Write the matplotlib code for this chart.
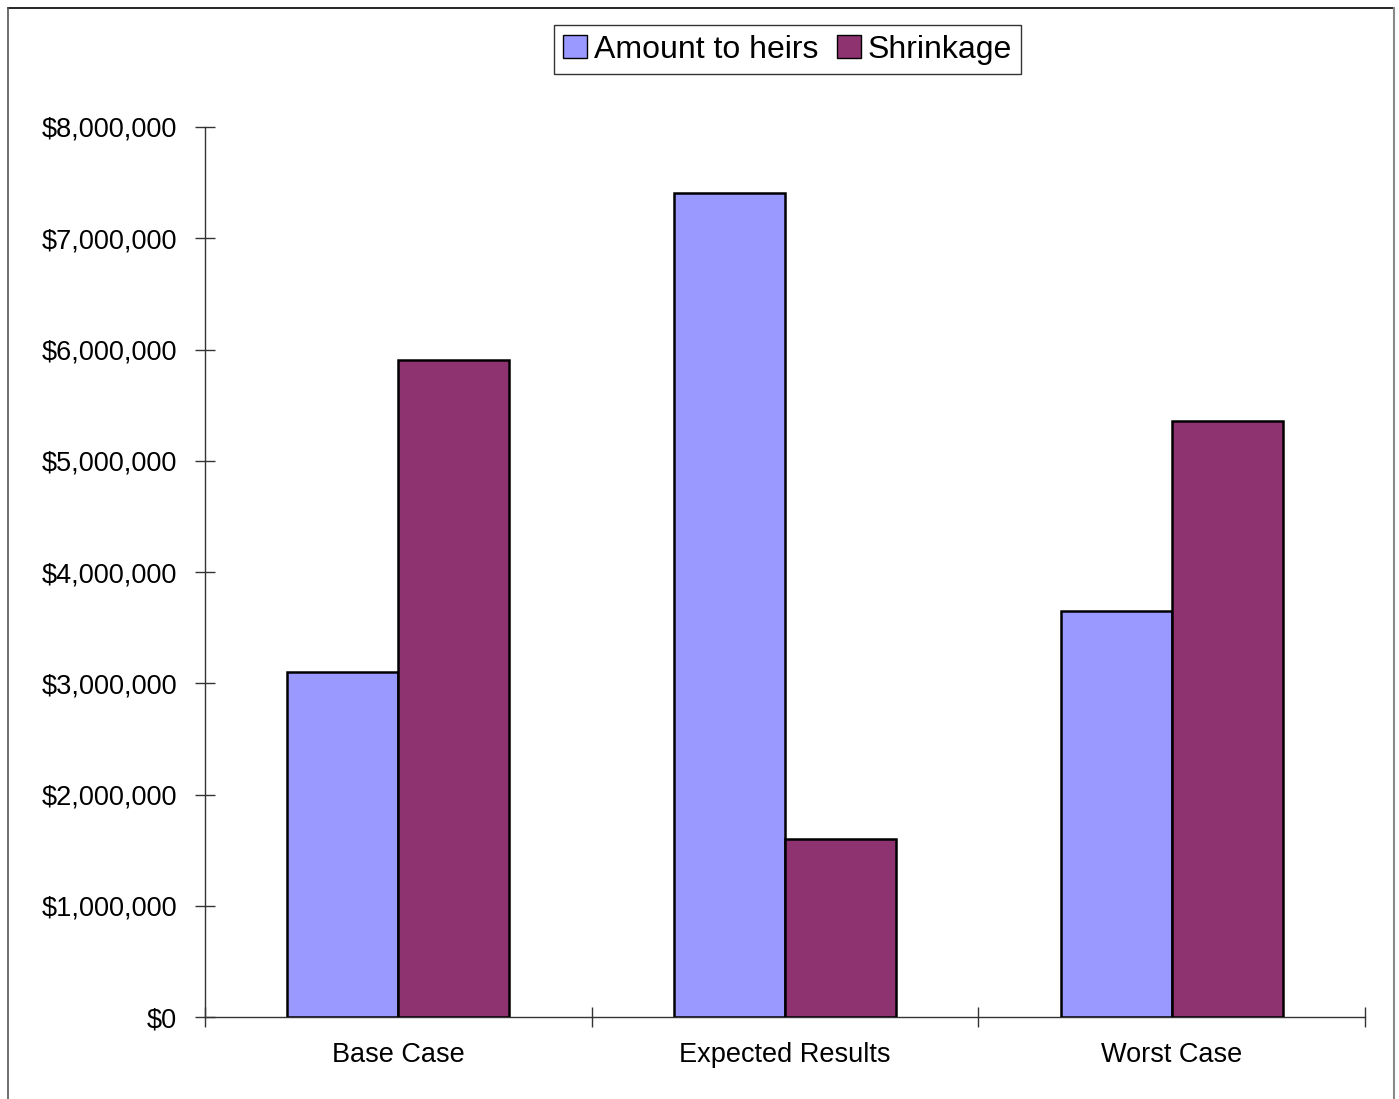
import matplotlib
matplotlib.use('Agg')
import matplotlib.pyplot as plt
from matplotlib.lines import Line2D
import numpy as np

plt.rcParams['font.family'] = ['Liberation Sans', 'DejaVu Sans']

# data
categories = ['Base Case', 'Expected Results', 'Worst Case']
amount_to_heirs = [3100000, 7410000, 3650000]
shrinkage = [5910000, 1600000, 5360000]
yticks = np.arange(0, 8000001, 1000000)

W, H = 1399, 1099
fig = plt.figure(figsize=(W / 100, H / 100), dpi=100)
ax = fig.add_axes([205 / W, 1 - 1017 / H, (1365 - 205) / W, (1017 - 127) / H])

x = np.arange(len(categories))
bw = 0.287
ax.bar(x - bw / 2, amount_to_heirs, bw, color='#9999FF', edgecolor='black',
       linewidth=1.8, label='Amount to heirs', zorder=3)
ax.bar(x + bw / 2, shrinkage, bw, color='#8E3370', edgecolor='black',
       linewidth=1.8, label='Shrinkage', zorder=3)

ax.set_xlim(-0.5, len(categories) - 0.5)
ax.set_ylim(0, 8000000)

ax.set_yticks(yticks)
ax.set_yticklabels(['${:,.0f}'.format(v) for v in yticks], fontsize=19.5)
ax.set_xticks(np.arange(len(categories) + 1) - 0.5)
ax.set_xticklabels([])
ax.set_xticks(x, minor=True)
ax.set_xticklabels(categories, minor=True, fontsize=19.5)
ax.tick_params(axis='x', which='minor', length=0, pad=18)
ax.tick_params(axis='x', which='major', direction='inout', length=14, width=1, color='#333333')
ax.tick_params(axis='y', direction='inout', length=14, width=1, color='#333333', pad=13)

for s in ['top', 'right']:
    ax.spines[s].set_visible(False)
for s in ['left', 'bottom']:
    ax.spines[s].set_color('#333333')
    ax.spines[s].set_linewidth(1)

leg = ax.legend(loc='upper center', bbox_to_anchor=(787.5 / W, 1 - 25 / H),
                bbox_transform=fig.transFigure, ncol=2, fontsize=23,
                frameon=True, fancybox=False, edgecolor='black',
                handlelength=0.75, handleheight=0.75, handletextpad=0.2,
                columnspacing=0.6, borderpad=0.3, borderaxespad=0)
leg.get_frame().set_linewidth(1)
for p in leg.get_patches():
    p.set_linewidth(1)

# outer chart border
fig.add_artist(Line2D([8 / W, 1394 / W], [1 - 8 / H, 1 - 8 / H], color='black', lw=1.2, transform=fig.transFigure))
fig.add_artist(Line2D([8 / W, 8 / W], [1 - 8 / H, 0], color='#555555', lw=1.2, transform=fig.transFigure))
fig.add_artist(Line2D([1394 / W, 1394 / W], [1 - 8 / H, 0], color='#888888', lw=1.5, transform=fig.transFigure))

fig.savefig('out.png', dpi=100, facecolor='white')
